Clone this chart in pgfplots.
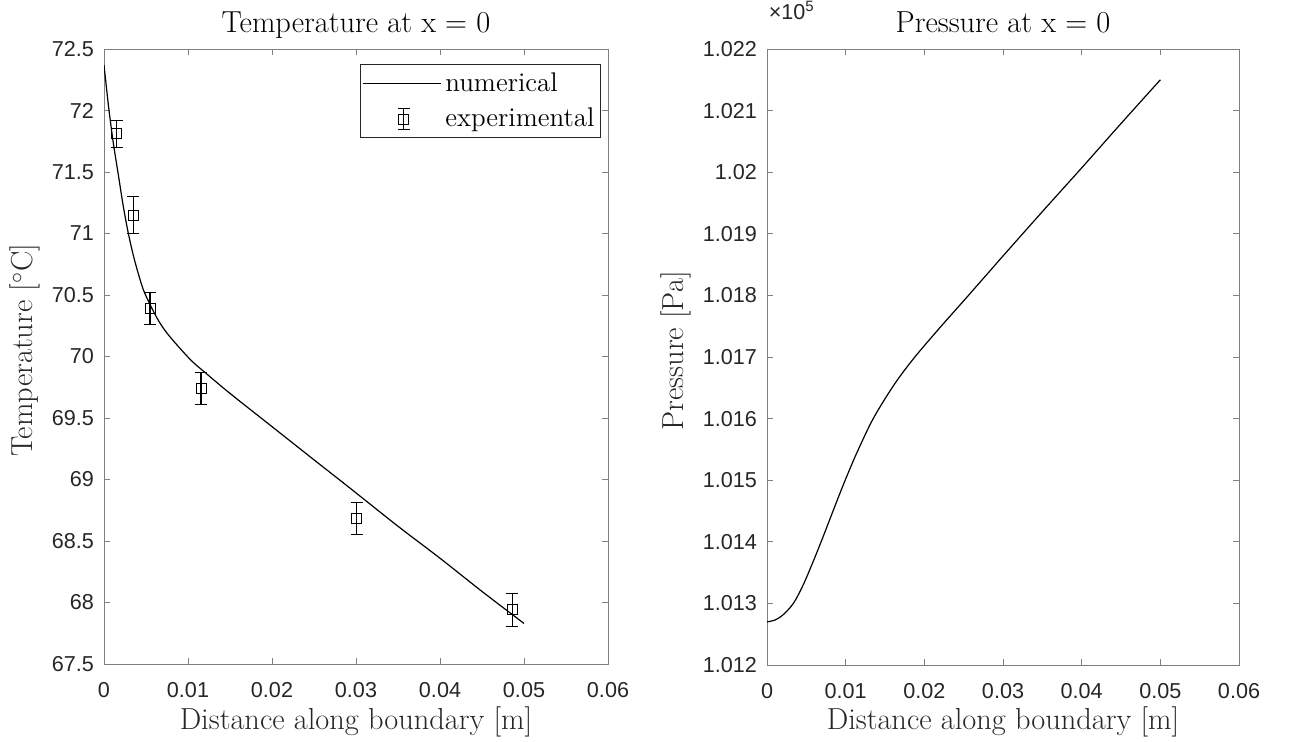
\documentclass[border=0pt]{standalone}
\usepackage{pgfplots}
\pgfplotsset{compat=1.18}
\usepackage{fontspec}
\newfontfamily\tickfont{Liberation Sans}
\definecolor{axgray}{rgb}{0.5,0.5,0.5}
\definecolor{txtgray}{rgb}{0.15,0.15,0.15}
\newcommand{\labfont}{\fontsize{15.2}{18}\selectfont}
\pgfplotsset{mystyle/.style={
  scale only axis, anchor=south west, enlargelimits=false, scaled ticks=false,
  axis line style={axgray, line width=0.5pt},
  every tick/.style={axgray, line width=0.5pt},
  major tick length=3pt,
  tick label style={font=\tickfont\fontsize{10.8}{12}\selectfont, text=txtgray},
  xticklabel style={yshift=-5.5pt},
  yticklabel style={xshift=-1.5pt},
  xmin=0, xmax=0.06,
  xtick={0,0.01,0.02,0.03,0.04,0.05,0.06},
  xticklabels={0,0.01,0.02,0.03,0.04,0.05,0.06},
  title style={font=\labfont, anchor=base},
  xlabel style={font=\labfont, text=txtgray, anchor=base},
  ylabel style={font=\labfont, text=txtgray, anchor=base},
  xlabel={Distance along boundary [m]},
}}
\begin{document}
\begin{tikzpicture}
\path[use as bounding box] (0,0) rectangle (654.5pt,370.5pt);
% ---------------- left axis ----------------
\begin{axis}[mystyle,
  at={(52pt,38.5pt)}, width=252pt, height=307.5pt,
  ymin=67.5, ymax=72.5,
  ytick={67.5,68,68.5,69,69.5,70,70.5,71,71.5,72,72.5},
  yticklabels={67.5,68,68.5,69,69.5,70,70.5,71,71.5,72,72.5},
  title={Temperature at x = 0},
  title style={at={(axis description cs:0.5,1.008)}},
  xlabel style={at={(axis description cs:0.5,-0.1057)}},
  ylabel={Temperature [$^\circ$C]},
  ylabel style={at={(axis description cs:-0.1409,0.51)}},
  legend style={at={(rel axis cs:0.986,0.9756)}, anchor=north east,
    draw=txtgray, line width=0.5pt, fill=white,
    font=\fontsize{13.5}{15}\selectfont, inner xsep=1pt, inner ysep=2pt,
    row sep=3pt},
  legend cell align=left,
]
\addplot[black, line width=0.6pt, smooth,
  legend image code/.code={\draw[black,line width=0.6pt] (0pt,0pt) -- (39pt,0pt);}]
coordinates {
(0,72.37) (0.0003,72.18) (0.0006,72.00) (0.0011,71.74) (0.0017,71.48)
(0.0023,71.22) (0.0029,71.00) (0.0035,70.82) (0.0041,70.67) (0.0047,70.54)
(0.0055,70.42) (0.0065,70.29) (0.0075,70.19) (0.009,70.07) (0.0105,69.96)
(0.0122,69.86) (0.015,69.70) (0.02,69.43) (0.025,69.16) (0.0291,68.94)
(0.035,68.62) (0.04,68.36) (0.045,68.09) (0.05,67.83)
};
\addlegendentry{numerical}
\addplot[black, only marks, mark=square, mark size=2.5pt,
  mark options={line width=0.5pt, black},
  legend image code/.code={
    \draw[black,line width=0.6pt] (20.5pt,-5.2pt) -- (20.5pt,5.2pt)
      (17.5pt,5.2pt) -- (23.5pt,5.2pt) (17.5pt,-5.2pt) -- (23.5pt,-5.2pt);
    \draw[black,line width=0.5pt] (18pt,-2.5pt) rectangle (23pt,2.5pt);},
  error bars/.cd, y dir=both, y explicit,
  error bar style={line width=0.6pt, black},
  error mark options={rotate=90, mark size=3pt, line width=0.6pt, black}]
coordinates {
(0.0015,71.81) +- (0,0.11)
(0.0035,71.15) +- (0,0.15)
(0.00548,70.39) +- (0,0.13)
(0.01155,69.74) +- (0,0.13)
(0.03008,68.68) +- (0,0.13)
(0.0486,67.94) +- (0,0.135)
};
\addlegendentry{experimental}
\end{axis}
% ---------------- right axis ----------------
\begin{axis}[mystyle,
  at={(383.5pt,38pt)}, width=236pt, height=308pt,
  ymin=101200, ymax=102200,
  ytick={101200,101300,101400,101500,101600,101700,101800,101900,102000,102100,102200},
  yticklabels={1.012,1.013,1.014,1.015,1.016,1.017,1.018,1.019,1.02,1.021,1.022},
  title={Pressure at x = 0},
  title style={at={(axis description cs:0.5,1.008)}},
  xlabel style={at={(axis description cs:0.5,-0.1039)}},
  ylabel={Pressure [Pa]},
  ylabel style={at={(axis description cs:-0.178,0.51)}},
  after end axis/.code={
    \node[anchor=base west, inner sep=0pt, text=txtgray,
      font=\tickfont\fontsize{10.8}{12}\selectfont]
      at (rel axis cs:0.003,1.0487) {×10\raisebox{3.7pt}{\fontsize{7.5}{9}\selectfont 5}};
  },
]
\addplot[black, line width=0.6pt, smooth] coordinates {
(0,101270) (0.001,101273) (0.002,101281) (0.00335,101300) (0.0046,101330)
(0.0059,101369) (0.007,101404) (0.008,101437) (0.009,101470) (0.010,101502)
(0.0114,101544) (0.0135,101600) (0.0161,101654) (0.0186,101697) (0.022,101748)
(0.0254,101797) (0.03,101864) (0.035,101936) (0.04,102007) (0.045,102079)
(0.05,102150)
};
\end{axis}
\end{tikzpicture}
\end{document}
